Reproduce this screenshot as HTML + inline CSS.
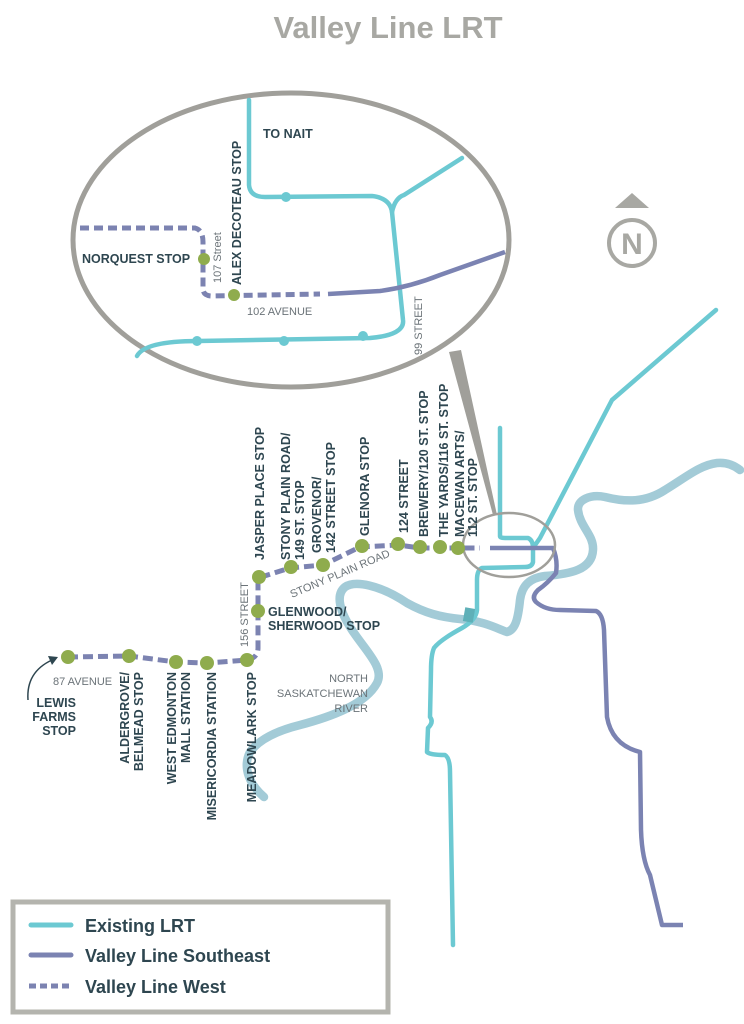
<!DOCTYPE html>
<html><head><meta charset="utf-8"><style>
html,body{margin:0;padding:0;background:#fff}
svg{display:block}
text{font-family:"Liberation Sans",sans-serif}
.b{font-weight:bold;fill:#2e4650;font-size:12.5px}
.r{fill:#6b7378;font-size:11px}
</style></head><body>
<svg width="744" height="1024" viewBox="0 0 744 1024" xmlns="http://www.w3.org/2000/svg">
<text x="388" y="38" text-anchor="middle" font-size="31" font-weight="bold" fill="#a8a8a3">Valley Line LRT</text>

<!-- north -->
<polygon points="615,208 632,193 649,208" fill="#a8a8a3"/>
<circle cx="632" cy="243" r="23" fill="none" stroke="#a8a8a3" stroke-width="4"/>
<text x="632" y="254" text-anchor="middle" font-size="30" font-weight="bold" fill="#a8a8a3">N</text>

<!-- river -->
<path d="M264,797 C250,785 242,768 250,752 C260,738 280,730 300,725 C330,717 365,705 377,683 C385,668 365,650 352,630 C340,612 335,595 345,587 C355,580 380,585 407,603 C425,613 440,617 460,619 C485,621 500,630 507,632 C515,630 518,620 520,600 C522,585 530,578 545,576 C570,574 592,570 593,550 C594,535 580,527 578,510 C577,500 590,494 605,497 C625,502 645,503 665,490 C685,478 700,465 717,463 C728,462 735,466 740,470" fill="none" stroke="#a3cbd7" stroke-width="8.5" stroke-linecap="round" stroke-linejoin="round"/>

<!-- teal existing -->
<g fill="none" stroke="#6cc9d2" stroke-width="4.5" stroke-linecap="round" stroke-linejoin="round">
<path d="M500,428 L500,536 Q500,538 505,538 L528,538 Q533,540 533,548 L533,562 Q532,567 525,567 L482,568 Q477,570 477,580 L477,610 Q476,620 462,628 Q440,640 434,648 Q431,655 431,670 L430,717 Q434,722 428,728 L427,752 Q430,755 445,755 Q450,758 450,772 L453,945"/>
<path d="M533,548 L540,538 L612,400 L716,310"/>
</g>
<rect x="464" y="608" width="10" height="14" fill="#5fb0b8" transform="rotate(10 469 615)"/>

<!-- purple southeast -->
<path d="M490,548 L553,548 Q558,560 556,573 Q548,583 538,590 Q531,597 536,602 Q545,610 560,610 L596,611 Q603,614 604,630 L607,717 Q612,745 640,752 L641,830 Q642,860 650,875 L662,925 L683,925" fill="none" stroke="#7b83b2" stroke-width="4.5" stroke-linejoin="round"/>

<!-- small ellipse + pointer -->
<ellipse cx="509" cy="545" rx="46" ry="32" fill="none" stroke="#a09f9a" stroke-width="2.5"/>
<polygon points="449,352 461,350 497,515 493,515" fill="#a09f9a"/>

<!-- dashed west main -->
<path d="M68,657 L129,656 L176,662 L207,663 L247,660 Q258,658 258,648 L258,578 L290,568 L323,565 L360,547 L398,545 L420,548 L480,548" fill="none" stroke="#7c83b1" stroke-width="5" stroke-dasharray="10,5"/>
<g fill="#8fac4d">
<circle cx="68" cy="657" r="7"/><circle cx="129" cy="656" r="7"/><circle cx="176" cy="662" r="7"/><circle cx="207" cy="663" r="7"/><circle cx="247" cy="660" r="7"/>
<circle cx="258" cy="611" r="7"/><circle cx="259" cy="577" r="7"/><circle cx="291" cy="567" r="7"/><circle cx="323" cy="565" r="7"/><circle cx="362" cy="546" r="7"/><circle cx="398" cy="544" r="7"/><circle cx="420" cy="547" r="7"/><circle cx="440" cy="547" r="7"/><circle cx="458" cy="548" r="7"/>
</g>

<!-- big ellipse -->
<ellipse cx="291" cy="240" rx="218" ry="147" fill="#fff" stroke="#a09f9a" stroke-width="5"/>
<g fill="none" stroke="#6cc9d2" stroke-width="4.5" stroke-linecap="round" stroke-linejoin="round">
<path d="M249,100 L249,185 Q250,197 265,197 L372,196 Q390,198 392,212 L403,320 Q405,335 370,338 L198,341 Q145,341 137,356"/>
<path d="M392,212 Q395,198 404,195 L462,158"/>
</g>
<g fill="#6cc9d2"><circle cx="286" cy="197" r="5"/><circle cx="197" cy="341" r="5"/><circle cx="284" cy="341" r="5"/><circle cx="363" cy="336" r="5"/></g>
<path d="M328,294 L380,291 Q410,287 440,275 L505,252" fill="none" stroke="#7b83b2" stroke-width="4.5"/>
<path d="M80,228 L195,228 Q203,230 203,242 L203,290 Q204,296 212,296 L320,294" fill="none" stroke="#7c83b1" stroke-width="5" stroke-dasharray="9,5"/>
<circle cx="204" cy="259" r="6" fill="#8fac4d"/><circle cx="234" cy="295" r="6" fill="#8fac4d"/>
<text x="82" y="263" class="b" font-size="13">NORQUEST STOP</text>
<text x="263" y="138" class="b" font-size="13">TO NAIT</text>
<text x="247" y="315" class="r" font-size="11.5">102 AVENUE</text>
<text transform="translate(221,283) rotate(-90)" class="r">107 Street</text>
<text transform="translate(241,285) rotate(-90)" class="b" font-size="13">ALEX DECOTEAU STOP</text>
<text transform="translate(422,355) rotate(-90)" class="r" font-size="10.5">99 STREET</text>

<!-- upper stop labels -->
<g class="b">
<text transform="translate(264,560) rotate(-90)">JASPER PLACE STOP</text>
<text transform="translate(290,560) rotate(-90)">STONY PLAIN ROAD/</text>
<text transform="translate(304,560) rotate(-90)">149 ST. STOP</text>
<text transform="translate(321,553) rotate(-90)">GROVENOR/</text>
<text transform="translate(335,553) rotate(-90)">142 STREET STOP</text>
<text transform="translate(369,536) rotate(-90)">GLENORA STOP</text>
<text transform="translate(408,533) rotate(-90)">124 STREET</text>
<text transform="translate(428,537) rotate(-90)">BREWERY/120 ST. STOP</text>
<text transform="translate(448,537) rotate(-90)">THE YARDS/116 ST. STOP</text>
<text transform="translate(464,537) rotate(-90)">MACEWAN ARTS/</text>
<text transform="translate(477,537) rotate(-90)">112 ST. STOP</text>
<text x="268" y="616">GLENWOOD/</text>
<text x="268" y="630">SHERWOOD STOP</text>
<text text-anchor="end" transform="translate(129,672) rotate(-90)">ALDERGROVE/</text>
<text text-anchor="end" transform="translate(143,672) rotate(-90)">BELMEAD STOP</text>
<text text-anchor="end" transform="translate(176,672) rotate(-90)">WEST EDMONTON</text>
<text text-anchor="end" transform="translate(190,672) rotate(-90)">MALL STATION</text>
<text text-anchor="end" transform="translate(216,672) rotate(-90)">MISERICORDIA STATION</text>
<text text-anchor="end" transform="translate(256,672) rotate(-90)">MEADOWLARK STOP</text>
<text x="76" y="707" text-anchor="end">LEWIS</text>
<text x="76" y="721" text-anchor="end">FARMS</text>
<text x="76" y="735" text-anchor="end">STOP</text>
</g>
<path d="M28,700 Q26,672 52,660" fill="none" stroke="#2e4650" stroke-width="1.5"/>
<polygon points="58,657 48,656 52,665" fill="#2e4650"/>
<text x="53" y="685" class="r">87 AVENUE</text>
<text transform="translate(248,647) rotate(-90)" class="r" font-size="10.5">156 STREET</text>
<text transform="translate(292,598) rotate(-23)" class="r" font-size="10.5">STONY PLAIN ROAD</text>
<g class="r" text-anchor="end"><text x="368" y="682">NORTH</text><text x="368" y="697">SASKATCHEWAN</text><text x="368" y="712">RIVER</text></g>

<!-- legend -->
<rect x="13" y="902" width="375" height="110" fill="#fff" stroke="#b4b4ae" stroke-width="5"/>
<line x1="31" y1="925" x2="71" y2="925" stroke="#6cc9d2" stroke-width="5" stroke-linecap="round"/>
<line x1="31" y1="955" x2="71" y2="955" stroke="#7b83b2" stroke-width="5" stroke-linecap="round"/>
<line x1="29" y1="986" x2="73" y2="986" stroke="#7c83b1" stroke-width="5" stroke-dasharray="7,4"/>
<g font-size="18" font-weight="bold" fill="#2e4650">
<text x="85" y="932">Existing LRT</text>
<text x="85" y="962">Valley Line Southeast</text>
<text x="85" y="993">Valley Line West</text>
</g>
</svg>
</body></html>
